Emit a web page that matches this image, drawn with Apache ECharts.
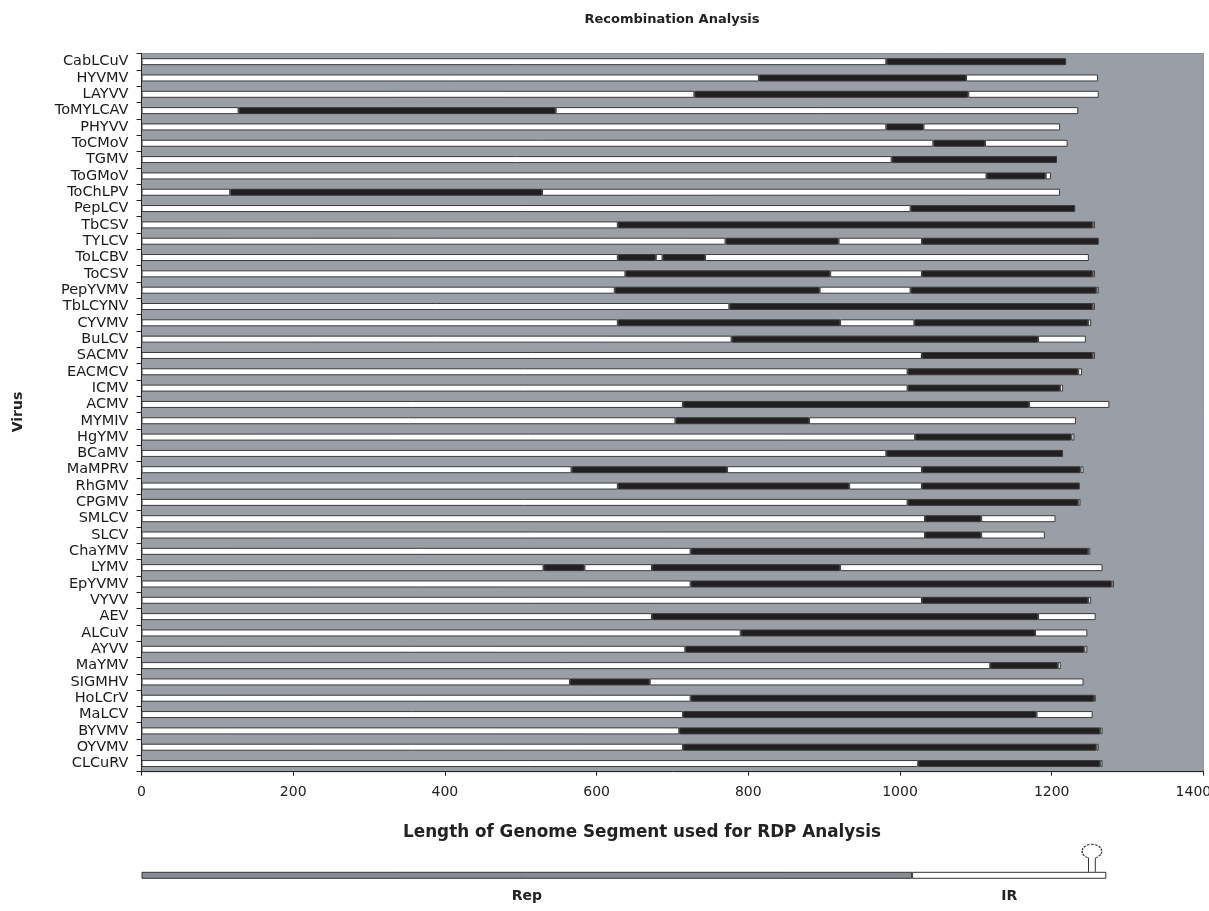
<!DOCTYPE html>
<html>
<head>
<meta charset="utf-8">
<title>Recombination Analysis</title>
<script src="https://cdn.jsdelivr.net/npm/echarts@6/dist/echarts.min.js"></script>
<style>
    html, body { margin: 0; padding: 0; background: #fff; }
    #main { width: 1209px; height: 911px; }
</style>
</head>
<body>
<div id="main"></div>
<script>
// virus names, top to bottom
var viruses = ['CabLCuV', 'HYVMV', 'LAYVV', 'ToMYLCAV', 'PHYVV', 'ToCMoV', 'TGMV', 'ToGMoV', 'ToChLPV', 'PepLCV',
    'TbCSV', 'TYLCV', 'ToLCBV', 'ToCSV', 'PepYVMV', 'TbLCYNV', 'CYVMV', 'BuLCV', 'SACMV', 'EACMCV',
    'ICMV', 'ACMV', 'MYMIV', 'HgYMV', 'BCaMV', 'MaMPRV', 'RhGMV', 'CPGMV', 'SMLCV', 'SLCV',
    'ChaYMV', 'LYMV', 'EpYVMV', 'VYVV', 'AEV', 'ALCuV', 'AYVV', 'MaYMV', 'SIGMHV', 'HoLCrV',
    'MaLCV', 'BYVMV', 'OYVMV', 'CLCuRV'];

// end position of each segment (white, black, white, black, white), null = no segment
var break1 = [982, 814, 729, 128, 982, 1044, 989, 1114, 117, 1014,
    628, 770, 628, 638, 624, 775, 628, 778, 1029, 1010,
    1010, 714, 704, 1020, 982, 567, 628, 1010, 1033, 1033,
    724, 530, 724, 1029, 673, 790, 717, 1119, 565, 724,
    714, 709, 714, 1024];
var break2 = [1219, 1087, 1090, 546, 1031, 1112, 1207, 1192, 528, 1231,
    1254, 919, 678, 908, 894, 1254, 921, 1182, 1254, 1235,
    1211, 1170, 880, 1226, 1215, 772, 933, 1235, 1107, 1107,
    1248, 584, 1279, 1248, 1182, 1178, 1243, 1208, 670, 1256,
    1180, 1264, 1259, 1264];
var break3 = [null, 1261, 1262, 1235, 1211, 1221, null, 1199, 1211, null,
    1257, 1029, 687, 1029, 1014, 1257, 1019, 1245, 1257, 1240,
    1215, 1276, 1232, 1230, null, 1029, 1029, 1238, 1205, 1191,
    1251, 673, 1282, 1252, 1258, 1247, 1247, 1212, 1242, 1258,
    1254, 1267, 1262, 1267];
var break4 = [null, null, null, null, null, null, null, null, null, null,
    null, 1262, 743, 1254, 1259, null, 1248, null, null, null,
    null, null, null, null, null, 1238, 1237, null, null, null,
    null, 921, null, null, null, null, null, null, null, null,
    null, null, null, null];
var break5 = [null, null, null, null, null, null, null, null, null, null,
    null, null, 1249, 1257, 1262, null, 1252, null, null, null,
    null, null, null, null, null, 1242, null, null, null, null,
    null, 1267, null, null, null, null, null, null, null, null,
    null, null, null, null];

// genome map under the chart
var genomeRegions = ['Rep', 'IR'];
var genomeEnds = [1016, 1272];
var stemLoopPos = [1253];

var segColors = ['#ffffff', '#231f20', '#ffffff', '#231f20', '#ffffff'];
var font = 'DejaVu Sans';

var breaks = [break1, break2, break3, break4, break5];

// 每一段的长度 = 当前端点 - 上一个端点
var series = breaks.map(function(arr, k) {
    return {
        type: 'bar',
        stack: 'rdp',
        barWidth: 7,
        silent: true,
        itemStyle: {
            color: segColors[k],
            borderColor: '#3a3a3a',
            borderWidth: 1
        },
        data: arr.map(function(v, i) {
            if (v == null) return '-';
            var prev = k === 0 ? 0 : breaks[k - 1][i];
            return v - prev;
        })
    };
});

// 基因组示意条
genomeRegions.forEach(function(name, k) {
    series.push({
        type: 'bar',
        name: name,
        stack: 'map',
        xAxisIndex: 1,
        yAxisIndex: 1,
        barWidth: 7,
        silent: true,
        itemStyle: {
            color: k === 0 ? '#868c92' : '#ffffff',
            borderColor: '#333',
            borderWidth: 1
        },
        label: {
            show: true,
            position: 'bottom',
            distance: 11,
            formatter: name,
            fontFamily: font,
            fontWeight: 'bold',
            fontSize: 14,
            color: '#222'
        },
        data: [genomeEnds[k] - (k ? genomeEnds[k - 1] : 0)]
    });
});

// stem-loop
series.push({
    type: 'custom',
    xAxisIndex: 1,
    yAxisIndex: 1,
    silent: true,
    data: stemLoopPos.map(function(v) { return [v, 0]; }),
    renderItem: function(params, api) {
        var p = api.coord([api.value(0), 0]);
        var cy = p[1] - 24;
        var gap = 0.45;
        var lineStyle = { stroke: '#333', lineWidth: 1 };
        return {
            type: 'group',
            children: [{
                type: 'line',
                shape: { x1: p[0] - 3.4, y1: p[1] - 3.5, x2: p[0] - 3.4, y2: cy + 6.3 },
                style: lineStyle
            }, {
                type: 'line',
                shape: { x1: p[0] + 3.4, y1: p[1] - 3.5, x2: p[0] + 3.4, y2: cy + 6.3 },
                style: lineStyle
            }, {
                type: 'group',
                x: p[0],
                y: cy,
                scaleX: 1.4,
                children: [{
                    type: 'arc',
                    shape: {
                        cx: 0, cy: 0, r: 7,
                        startAngle: Math.PI / 2 + gap,
                        endAngle: Math.PI / 2 - gap + Math.PI * 2,
                        clockwise: true
                    },
                    style: { stroke: '#333', lineWidth: 1, lineDash: [2, 1], fill: null }
                }]
            }]
        };
    }
});

var chart = echarts.init(document.getElementById('main'));
chart.setOption({
    animation: false,
    textStyle: { fontFamily: font },
    grid: [{
        left: 141.5,
        right: 5.6,
        top: 53.5,
        bottom: 139.3,
        outerBoundsMode: 'none',
        show: true,
        backgroundColor: '#9a9fa7',
        borderColor: '#8a8e94',
        borderWidth: 1
    }, {
        left: 141.5,
        right: 5.6,
        top: 871.6,
        height: 7.4,
        outerBoundsMode: 'none'
    }],
    xAxis: [{
        type: 'value',
        min: 0,
        max: 1400,
        interval: 200,
        axisLine: { show: true, lineStyle: { color: '#222' } },
        axisTick: { show: true, length: 4, lineStyle: { color: '#222' } },
        splitLine: { show: false },
        axisLabel: {
            margin: 14,
            fontSize: 14,
            color: '#222',
            fontFamily: font,
            // 最后一个刻度标签往左挪，免得被裁掉
            formatter: function(v) { return v === 1400 ? '{last|' + v + '}' : String(v); },
            rich: {
                last: { fontSize: 14, color: '#222', fontFamily: font, padding: [0, 20, 0, 0] }
            }
        }
    }, {
        type: 'value',
        gridIndex: 1,
        min: 0,
        max: 1400,
        show: false
    }],
    yAxis: [{
        type: 'category',
        data: viruses,
        inverse: true,
        axisLine: { show: true, lineStyle: { color: '#222' } },
        axisTick: { show: true, length: 5, lineStyle: { color: '#222' } },
        axisLabel: {
            fontSize: 14.5,
            color: '#1a1a1a',
            fontFamily: font,
            margin: 13,
            interval: 0,
            verticalAlign: 'middle',
            padding: [0, 0, 16.3, 0]
        }
    }, {
        type: 'category',
        gridIndex: 1,
        data: ['genome'],
        show: false
    }],
    graphic: [{
        type: 'text',
        x: 672,
        y: 20,
        style: {
            text: 'Recombination Analysis',
            font: 'bold 13px "DejaVu Sans"',
            fill: '#222',
            align: 'center',
            verticalAlign: 'middle'
        }
    }, {
        type: 'text',
        x: 642,
        y: 833,
        style: {
            text: 'Length of Genome Segment used for RDP Analysis',
            font: 'bold 16.8px "DejaVu Sans"',
            fill: '#222',
            align: 'center',
            verticalAlign: 'middle'
        }
    }, {
        type: 'text',
        x: 18,
        y: 412,
        rotation: Math.PI / 2,
        style: {
            text: 'Virus',
            font: 'bold 14px "DejaVu Sans"',
            fill: '#222',
            align: 'center',
            verticalAlign: 'middle'
        }
    }],
    series: series
});
</script>
</body>
</html>
